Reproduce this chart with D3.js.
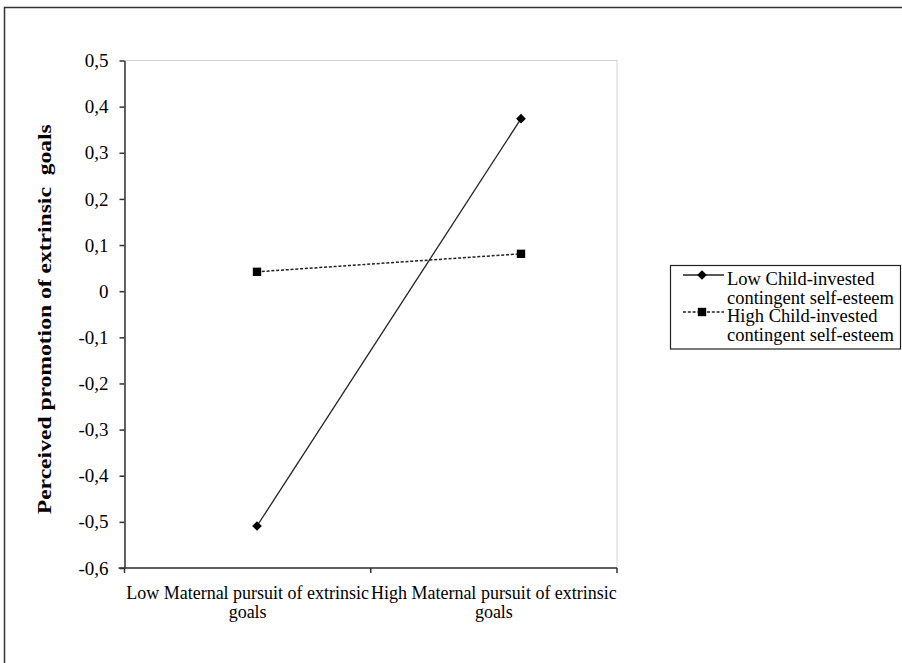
<!DOCTYPE html>
<html>
<head>
<meta charset="utf-8">
<script src="https://cdn.jsdelivr.net/npm/d3@7"></script>
<style>
  body { margin: 0; background: #fff; }
  text { font-family: "Liberation Serif", "Times New Roman", serif; fill: #000; }
</style>
</head>
<body>
<div id="chart-area"></div>
<script>
var categories = ["Low Maternal pursuit of extrinsic goals", "High Maternal pursuit of extrinsic goals"];
var categoryLines = [["Low Maternal pursuit of extrinsic", "goals"], ["High Maternal pursuit of extrinsic", "goals"]];
var seriesNames = [["Low Child-invested", "contingent self-esteem"], ["High Child-invested", "contingent self-esteem"]];
var lowSelfEsteem = [-0.509, 0.374];
var highSelfEsteem = [0.042, 0.081];
var yTicks = [0.5, 0.4, 0.3, 0.2, 0.1, 0, -0.1, -0.2, -0.3, -0.4, -0.5, -0.6];
var yTitle = "Perceived promotion of extrinsic  goals";

var dims = {
    width: 902,
    height: 663,
    left: 124.5,
    right: 617,
    top: 60.5,
    bottom: 568
};

var svg = d3.select("#chart-area")
    .append("svg")
    .attr("width", dims.width)
    .attr("height", dims.height);

// outer frame (cut off at right/bottom like the scan)
svg.append("rect")
    .attr("x", 4.5)
    .attr("y", 7.5)
    .attr("width", dims.width + 10)
    .attr("height", dims.height + 10)
    .attr("fill", "none")
    .attr("stroke", "#333")
    .attr("stroke-width", 1.5);

var y = d3.scaleLinear()
    .domain([-0.6, 0.5])
    .range([dims.bottom, dims.top]);

var xBand = d3.scaleBand()
    .domain(categories)
    .range([dims.left, dims.right]);

// markers sit a bit off the band centres in the original
var xPoint = d3.scalePoint()
    .domain(categories)
    .range([257, 521]);

// plot area border
svg.append("rect")
    .attr("x", dims.left)
    .attr("y", dims.top)
    .attr("width", dims.right - dims.left)
    .attr("height", dims.bottom - dims.top)
    .attr("fill", "none")
    .attr("stroke", "#c8c8c8")
    .attr("stroke-width", 0.8);

var fmt = function (d) {
    return d === 0 ? "0" : d.toFixed(1).replace(".", ",");
};

var yAxis = svg.append("g")
    .attr("transform", "translate(" + dims.left + ",0)")
    .call(d3.axisLeft(y).tickValues(yTicks).tickFormat(fmt).tickSize(5).tickPadding(11).tickSizeOuter(0));
yAxis.selectAll("text")
    .style("font-size", "19px")
    .style("font-family", "Liberation Serif, serif");
yAxis.selectAll("path, line").attr("stroke", "#333").attr("stroke-width", 1.5);

var xAxis = svg.append("g")
    .attr("transform", "translate(0," + dims.bottom + ")");
xAxis.append("line")
    .attr("x1", dims.left - 6)
    .attr("x2", dims.right)
    .attr("stroke", "#333")
    .attr("stroke-width", 1.5);
var xEdges = [xBand(categories[0]), xBand(categories[1]), xBand(categories[1]) + xBand.bandwidth()];
xAxis.selectAll(".edge")
    .data(xEdges)
    .enter().append("line")
    .attr("x1", function (d) { return d; })
    .attr("x2", function (d) { return d; })
    .attr("y1", 0)
    .attr("y2", 5)
    .attr("stroke", "#333")
    .attr("stroke-width", 1.5);

var xLabels = xAxis.selectAll(".cat")
    .data(categories)
    .enter().append("text")
    .attr("text-anchor", "middle")
    .style("font-size", "18px")
    .attr("transform", function (d) {
        return "translate(" + (xBand(d) + xBand.bandwidth() / 2) + ",0)";
    });
xLabels.each(function (d, i) {
    var t = d3.select(this);
    categoryLines[i].forEach(function (line, j) {
        t.append("tspan")
            .attr("x", 0)
            .attr("y", 31 + j * 19)
            .text(line);
    });
});

svg.append("text")
    .attr("transform", "translate(51," + ((dims.top + dims.bottom) / 2 + 5) + ") rotate(-90)")
    .attr("text-anchor", "middle")
    .attr("textLength", 390)
    .attr("lengthAdjust", "spacingAndGlyphs")
    .style("font-size", "18.5px")
    .style("font-weight", "bold")
    .style("white-space", "pre")
    .text(yTitle);

var line = d3.line()
    .x(function (d, i) { return xPoint(categories[i]); })
    .y(function (d) { return y(d); });

svg.append("path")
    .datum(lowSelfEsteem)
    .attr("d", line)
    .attr("fill", "none")
    .attr("stroke", "#222")
    .attr("stroke-width", 1.3);

svg.append("path")
    .datum(highSelfEsteem)
    .attr("d", line)
    .attr("fill", "none")
    .attr("stroke", "#222")
    .attr("stroke-width", 1.5)
    .attr("stroke-dasharray", "3,1.8");

var diamond = d3.symbol().type(d3.symbolDiamond2).size(60);
var square = d3.symbol().type(d3.symbolSquare).size(70);

svg.selectAll(".dia")
    .data(lowSelfEsteem)
    .enter().append("path")
    .attr("d", diamond)
    .attr("transform", function (d, i) {
        return "translate(" + xPoint(categories[i]) + "," + y(d) + ")";
    })
    .attr("fill", "#000");

svg.selectAll(".sq")
    .data(highSelfEsteem)
    .enter().append("path")
    .attr("d", square)
    .attr("transform", function (d, i) {
        return "translate(" + xPoint(categories[i]) + "," + y(d) + ")";
    })
    .attr("fill", "#000");

// legend
var legend = svg.append("g");
legend.append("rect")
    .attr("x", 670.5)
    .attr("y", 265.5)
    .attr("width", 230)
    .attr("height", 83.5)
    .attr("fill", "#fff")
    .attr("stroke", "#222")
    .attr("stroke-width", 1.2);

var legendRows = legend.selectAll(".row")
    .data(seriesNames)
    .enter().append("g")
    .attr("transform", function (d, i) { return "translate(0," + (275 + i * 37) + ")"; });

legendRows.append("line")
    .attr("x1", 683)
    .attr("x2", 724)
    .attr("stroke", "#222")
    .attr("stroke-width", function (d, i) { return i === 0 ? 1.3 : 1.5; })
    .attr("stroke-dasharray", function (d, i) { return i === 0 ? null : "3,1.8"; });

legendRows.append("path")
    .attr("d", function (d, i) { return i === 0 ? diamond() : square(); })
    .attr("transform", "translate(702,0)")
    .attr("fill", "#000");

legendRows.append("text")
    .style("font-size", "18.5px")
    .each(function (d) {
        var t = d3.select(this);
        d.forEach(function (s, j) {
            t.append("tspan")
                .attr("x", 727)
                .attr("y", 10 + j * 18.5)
                .text(s);
        });
    });
</script>
</body>
</html>
